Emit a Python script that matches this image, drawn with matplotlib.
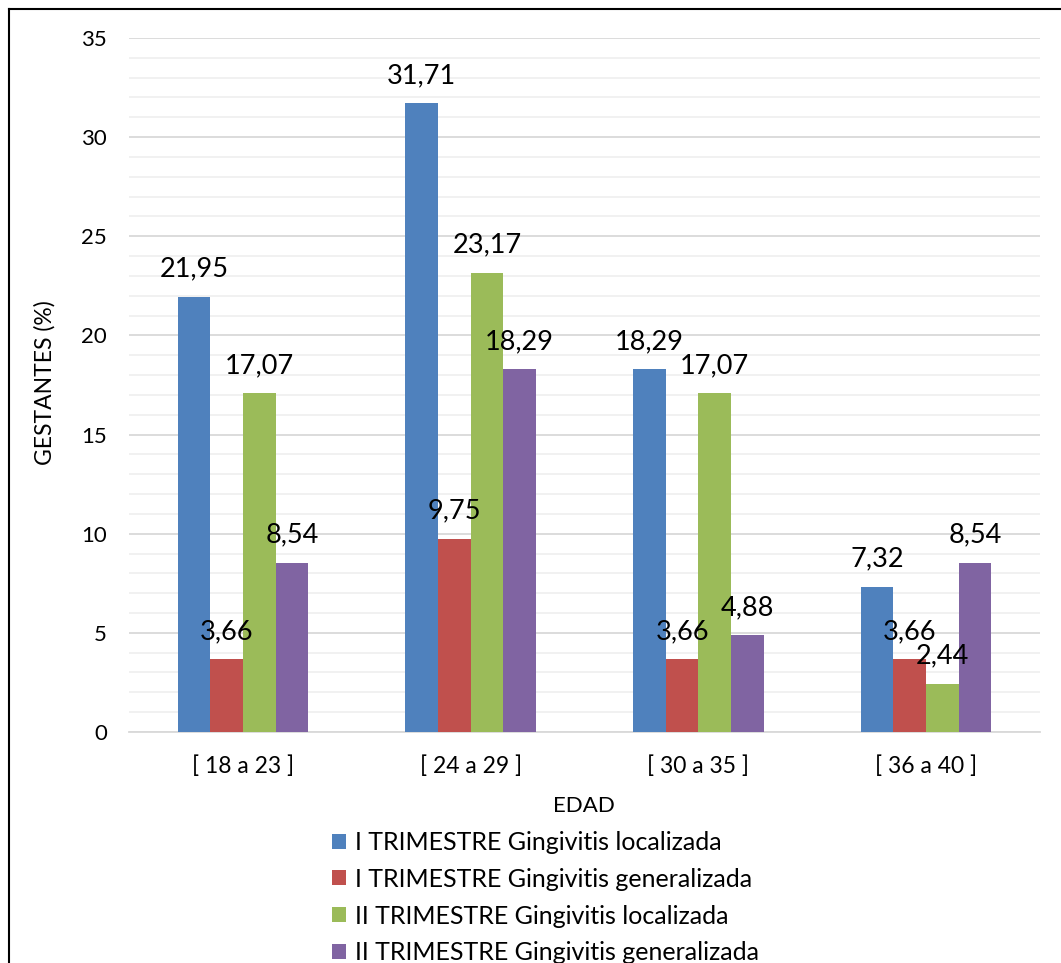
import matplotlib.pyplot as plt
import numpy as np
from matplotlib.lines import Line2D
from matplotlib.patches import Patch

plt.rcParams['font.family'] = ['Lato', 'DejaVu Sans']

# datos
edades = ['[ 18 a 23 ]', '[ 24 a 29 ]', '[ 30 a 35 ]', '[ 36 a 40 ]']
series = ['I TRIMESTRE Gingivitis localizada',
          'I TRIMESTRE Gingivitis generalizada',
          'II TRIMESTRE Gingivitis localizada',
          'II TRIMESTRE Gingivitis generalizada']
i_local = [21.95, 31.71, 18.29, 7.32]
i_general = [3.66, 9.75, 3.66, 3.66]
ii_local = [17.07, 23.17, 17.07, 2.44]
ii_general = [8.54, 18.29, 4.88, 8.54]
valores = [i_local, i_general, ii_local, ii_general]
colores = ['#4F81BD', '#C0504D', '#9BBB59', '#8064A2']

fig = plt.figure(figsize=(10.61, 9.63), dpi=100)
ax = fig.add_axes([0.1216, 0.2399, 0.8586, 0.7207])

x = np.arange(len(edades))
ancho = 0.1435
for i, (vals, col) in enumerate(zip(valores, colores)):
    pos = x + (i - 1.5) * ancho
    ax.bar(pos, vals, width=ancho, color=col, zorder=3)
    for px, v in zip(pos, vals):
        ax.annotate(f'{v:.2f}'.replace('.', ','), (px, v), xytext=(0, 20),
                    textcoords='offset points', ha='center', va='center',
                    fontsize=19.5, zorder=4)

ax.set_xlim(-0.5, 3.5)
ax.set_ylim(0, 35)
ax.set_yticks(np.arange(0, 36, 5))
ax.set_yticks(np.arange(0, 36, 1), minor=True)
ax.grid(axis='y', which='major', color='#d9d9d9', lw=1.3, zorder=0)
ax.grid(axis='y', which='minor', color='#f0f0f0', lw=1.3, zorder=0)
ax.set_xticks(x)
ax.set_xticklabels(edades)
ax.tick_params(axis='both', which='both', length=0)
ax.tick_params(axis='y', pad=16, labelsize=16)
ax.tick_params(axis='x', pad=17, labelsize=16.5)
for s in ['top', 'right', 'left']:
    ax.spines[s].set_visible(False)
ax.spines['bottom'].set_color('#d9d9d9')
ax.spines['bottom'].set_linewidth(1.3)

fig.text(45 / 1061, 1 - 383 / 963, 'GESTANTES (%)', rotation=90, ha='center', va='center',
         fontsize=16.5)
fig.text(584 / 1061, 1 - 806 / 963, 'EDAD', ha='center', va='center', fontsize=16)

handles = [Patch(facecolor=c) for c in colores]
fig.legend(handles, series, loc='upper left', bbox_to_anchor=(322 / 1061, 1 - 821 / 963),
           frameon=False, fontsize=18, handlelength=0.55, handleheight=0.55,
           handletextpad=0.36, labelspacing=0.55, borderaxespad=0)

# borde
fig.add_artist(Line2D([8.5 / 1061, 8.5 / 1061], [0, 1 - 9 / 963], color='black', lw=1.5))
fig.add_artist(Line2D([8.5 / 1061, 1], [1 - 9 / 963, 1 - 9 / 963], color='black', lw=1.5))

fig.savefig('out.png', dpi=100)
